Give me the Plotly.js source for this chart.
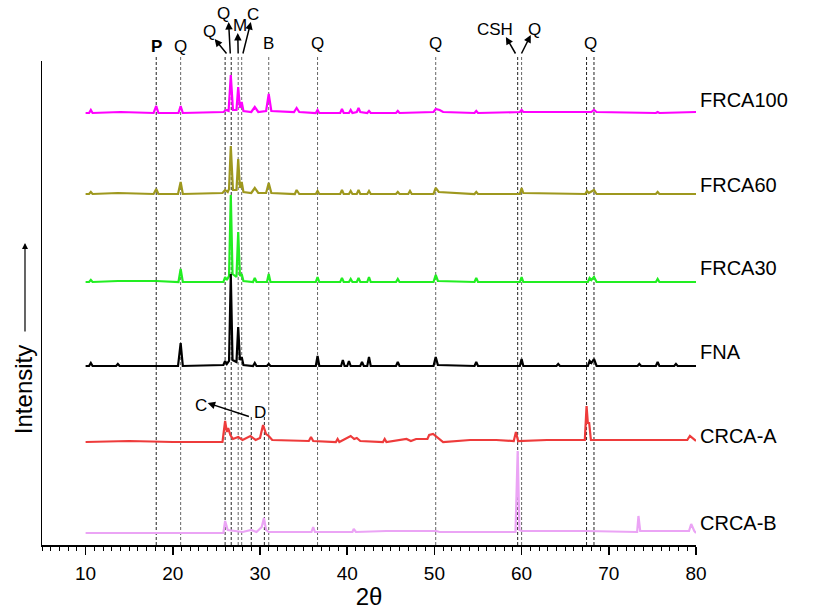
<!DOCTYPE html>
<html>
<head>
<meta charset="utf-8">
<script src="https://cdn.plot.ly/plotly-3.0.1.min.js"></script>
<style>html,body{margin:0;padding:0;background:#fff;}#chart{width:816px;height:610px;}</style>
</head>
<body>
<div id="chart"></div>
<script>
// ---- data (2θ, relative intensity above each pattern's baseline) ----
const seriesNames = ["FRCA100", "FRCA60", "FRCA30", "FNA", "CRCA-A", "CRCA-B"];
const seriesOffsets = [432, 351, 263, 179, 103, 12];
const seriesLabelY = [445, 360, 277, 193, 109, 22];
const seriesColors = ["#ff00ff", "#9e981e", "#22ee22", "#000000", "#ee3b3b", "#eba4f5"];

const frca100_x = [10, 10.4, 10.6, 10.8, 14, 17.8, 18.1, 18.35, 20.65, 20.9, 21.15, 25.8, 26.1, 26.4, 26.65, 26.9, 27.3, 27.5, 27.7, 27.9, 28.1, 29.0, 29.4, 29.8, 30.7, 31.0, 31.3, 33.9, 34.2, 34.5, 36.4, 36.6, 36.8, 39.2, 39.4, 39.6, 40.2, 40.4, 40.6, 41.1, 41.3, 41.5, 42.3, 42.5, 42.7, 45.6, 45.8, 46.0, 49.9, 50.15, 50.6, 51.0, 54.6, 54.8, 55.0, 59.8, 60.0, 60.2, 68.0, 68.3, 68.6, 75.4, 75.6, 75.8, 80];
const frca100_y = [0, 0, 3, 0, 1, 0, 7, 0, 0, 7, 0, 1, 3, 2, 38, 3, 3, 26, 5, 11, 2, 1, 6, 1, 2, 19, 2, 1, 5, 1, 0, 3, 0, 0, 4, 0, 0, 3, 0, 1, 5, 1, 0, 2, 0, 0, 2, 0, 1, 4, 3, 1, 0, 2, 0, 1, 3, 1, 1, 3, 1, 0, 1, 0, 1];

const frca60_x = [10, 10.4, 10.6, 10.8, 13.7, 17.8, 18.1, 18.35, 20.6, 20.9, 21.15, 25.7, 26.0, 26.3, 26.45, 26.65, 26.9, 27.3, 27.5, 27.7, 27.9, 28.1, 29.0, 29.4, 29.8, 30.7, 31.0, 31.3, 34.0, 34.2, 34.5, 36.4, 36.6, 36.8, 39.2, 39.4, 39.6, 40.2, 40.4, 40.6, 41.1, 41.3, 41.5, 42.3, 42.5, 42.7, 45.6, 45.8, 46.0, 47.0, 47.2, 47.4, 49.9, 50.15, 50.5, 54.6, 54.8, 55.0, 59.8, 60.0, 60.2, 67.3, 67.5, 67.7, 68.3, 68.6, 75.4, 75.6, 75.8, 80];
const frca60_y = [0, 0, 2, 0, 1, 0, 5, 0, 0, 12, 0, 1, 4, 2, 5, 48, 4, 4, 35, 6, 12, 2, 1, 6, 1, 1, 11, 1, 0, 4, 0, 0, 3, 0, 0, 4, 0, 0, 3, 0, 0, 4, 0, 0, 3, 0, 0, 2, 0, 0, 3, 0, 0, 6, 2, 0, 2, 0, 0, 6, 1, 0, 3, 1, 4, 0, 0, 2, 0, 0];

const frca30_x = [10, 10.4, 10.6, 10.8, 13.7, 18.1, 20.65, 20.9, 21.15, 25.8, 26.0, 26.2, 26.45, 26.65, 26.85, 27.3, 27.5, 27.7, 27.9, 28.1, 29.2, 29.4, 29.6, 30.8, 31.0, 31.2, 36.4, 36.6, 36.8, 39.2, 39.4, 39.6, 40.2, 40.4, 40.6, 41.1, 41.3, 41.5, 42.3, 42.5, 42.7, 45.6, 45.8, 46.0, 49.9, 50.15, 50.4, 54.6, 54.8, 55.0, 59.8, 60.0, 60.2, 67.6, 67.8, 68.0, 68.3, 68.6, 75.4, 75.6, 75.8, 80];
const frca30_y = [0, 0, 2, 0, 1, 1, 0, 13, 0, 0, 5, 2, 6, 87, 8, 5, 50, 6, 8, 1, 0, 4, 0, 0, 8, 0, 0, 5, 0, 0, 4, 0, 0, 3, 0, 0, 4, 0, 0, 5, 0, 0, 3, 0, 0, 7, 1, 0, 4, 0, 0, 5, 0, 0, 4, 2, 5, 0, 0, 3, 0, 0];

const fna_x = [10, 10.4, 10.6, 10.8, 13.5, 13.7, 13.9, 20.6, 20.9, 21.15, 25.8, 26.0, 26.2, 26.45, 26.65, 26.85, 27.3, 27.5, 27.7, 27.9, 28.1, 29.2, 29.4, 29.6, 30.8, 31.0, 31.2, 36.4, 36.6, 36.8, 39.3, 39.5, 39.7, 40.0, 40.2, 40.4, 41.5, 41.7, 41.9, 42.3, 42.5, 42.7, 45.6, 45.8, 46.0, 49.9, 50.15, 50.4, 54.6, 54.8, 55.0, 59.8, 60.0, 60.2, 64.0, 64.2, 64.4, 67.6, 67.8, 68.0, 68.3, 68.6, 73.3, 73.5, 73.7, 75.4, 75.6, 75.8, 77.5, 77.7, 77.9, 80];
const fna_y = [0, 0, 3, 0, 0, 2, 0, 0, 23, 0, 1, 5, 2, 5, 92, 6, 4, 39, 6, 9, 1, 0, 3, 0, 0, 2, 0, 0, 10, 0, 0, 6, 0, 0, 5, 0, 0, 4, 0, 0, 9, 0, 0, 4, 0, 0, 9, 1, 0, 4, 0, 0, 7, 0, 0, 2, 0, 0, 5, 3, 7, 0, 0, 2, 0, 0, 4, 0, 0, 2, 0, 0];

const crcaA_x = [10, 15, 20, 25.7, 26.0, 26.2, 26.35, 26.6, 26.9, 27.5, 28.0, 28.9, 29.5, 30.0, 30.35, 30.7, 31.0, 31.4, 35.6, 35.85, 36.1, 38.7, 38.9, 39.1, 40.4, 40.8, 41.1, 41.5, 44.1, 44.3, 44.5, 46.8, 47.3, 47.9, 49.2, 49.4, 49.85, 50.4, 51.0, 54.1, 57.1, 59.1, 59.35, 59.6, 62.9, 65.9, 67.25, 67.45, 67.6, 67.75, 67.95, 69.7, 79.0, 79.3, 79.6, 80];
const crcaA_y = [0, 1, 0, 0, 21, 10, 14, 7, 3, 5, 2, 6, 2, 4, 17, 8, 6, 2, 1, 5, 1, 0, 3, 0, 6, 3, 4, 1, 0, 3, 0, 3, 1, 3, 3, 7, 8, 4, 0, 2, 2, 1, 10, 1, 2, 2, 2, 36, 19, 19, 2, 2, 2, 6, 4, 1];

const crcaB_x = [10, 25.8, 26.0, 26.3, 28.0, 29.0, 29.6, 30.2, 30.45, 30.7, 31.0, 35.9, 36.1, 36.3, 40.6, 40.75, 41.0, 44.5, 50.2, 50.6, 59.3, 59.55, 59.75, 60.0, 67.4, 73.25, 73.4, 73.6, 79.2, 79.45, 79.8, 80];
const crcaB_y = [0, 0, 12, 3, 1, 3, 1, 6, 15, 3, 1, 1, 6, 1, 1, 4, 1, 2, 2, 1, 1, 82, 3, 2, 2, 1, 17, 2, 2, 9, 2, 0];

const seriesX = [frca100_x, frca60_x, frca30_x, fna_x, crcaA_x, crcaB_x];
const seriesY = [frca100_y, frca60_y, frca30_y, fna_y, crcaA_y, crcaB_y];

// reference phase lines (2θ)
const refLinesX = [18.1, 20.9, 26.0, 26.7, 27.5, 27.9, 29.0, 30.5, 31.0, 36.6, 50.15, 59.55, 60.0, 67.45, 68.3];
const refLinesTop = [488, 488, 488, 488, 488, 488, 128, 128, 488, 488, 488, 488, 488, 488, 488];
const refLinesDark = [true, false, true, true, false, false, true, true, false, false, false, true, false, true, true];

// plain phase labels [text, 2θ, height]
const phaseLabels = [["<b>P</b>", 18.1, 499], ["Q", 20.9, 499], ["B", 31.0, 502], ["Q", 36.6, 502], ["Q", 50.15, 502], ["Q", 67.9, 502]];
// arrow labels [text, labelX, labelY, headX, headY, tailX, tailY]
const arrowLabels = [
  ["Q", 24.2, 514, 24.8, 506, 26.3, 490],
  ["Q", 25.85, 532, 26.4, 523, 26.6, 490],
  ["M", 27.7, 519, 27.45, 512, 27.5, 490],
  ["C", 29.15, 531, 28.95, 523, 28.0, 490],
  ["CSH", 56.9, 516, 58.2, 508, 59.4, 490],
  ["Q", 61.5, 516, 61.05, 510, 59.9, 490],
  ["C", 23.25, 140, 24.0, 142, 28.9, 128]
];
const extraLabels = [["D", 29.95, 133]];

// ---- scales ----
const X_RANGE = [5, 80], Y_RANGE = [0, 484];
const M = {l: 42, r: 120, t: 61, b: 65};
const plotW = 816 - M.l - M.r, plotH = 610 - M.t - M.b;
const pxPerX = plotW / (X_RANGE[1] - X_RANGE[0]);
const pxPerY = plotH / (Y_RANGE[1] - Y_RANGE[0]);
const yPaper = v => (v - Y_RANGE[0]) / (Y_RANGE[1] - Y_RANGE[0]);

// ---- traces ----
const traces = seriesNames.map((n, i) => ({
  type: "scatter", mode: "lines", name: n,
  x: seriesX[i],
  y: seriesY[i].map(v => v + seriesOffsets[i]),
  line: {color: seriesColors[i], width: 2.2},
  cliponaxis: false,
  showlegend: false
}));

const shapes = refLinesX.map((x, i) => ({
  type: "line", xref: "x", yref: "paper", x0: x, x1: x, y0: 0, y1: yPaper(refLinesTop[i]),
  line: {color: refLinesDark[i] ? "#222" : "#666", width: 1, dash: "3px,2px"},
  layer: "below"
}));

const font = "Arial, 'Liberation Sans', sans-serif";
const annotations = [];
seriesNames.forEach((n, i) => {
  annotations.push({
    x: 80, y: yPaper(seriesLabelY[i]), xref: "x", yref: "paper", text: n, showarrow: false,
    xanchor: "left", yanchor: "middle", xshift: 2,
    font: {family: font, size: 20, color: "#000"}
  });
});
const labelFont = {family: font, size: 17, color: "#000"};
phaseLabels.forEach(p => annotations.push({
  x: p[1], y: yPaper(p[2]), xref: "x", yref: "paper", text: p[0], showarrow: false,
  xanchor: "center", yanchor: "middle", font: labelFont
}));
arrowLabels.forEach(a => {
  annotations.push({
    x: a[1], y: yPaper(a[2]), xref: "x", yref: "paper", text: a[0], showarrow: false,
    xanchor: "center", yanchor: "middle", font: labelFont
  });
  annotations.push({
    x: a[3], y: yPaper(a[4]), xref: "x", yref: "paper",
    ax: (a[5] - a[3]) * pxPerX, ay: -(a[6] - a[4]) * pxPerY,
    text: "", showarrow: true, arrowhead: 2, arrowsize: 1, arrowwidth: 1.5, arrowcolor: "#000", standoff: 0
  });
});
extraLabels.forEach(p => annotations.push({
  x: p[1], y: yPaper(p[2]), xref: "x", yref: "paper", text: p[0], showarrow: false,
  xanchor: "center", yanchor: "middle", font: labelFont
}));
// y-axis title with arrow
annotations.push({
  x: -0.029, y: 0.32, xref: "paper", yref: "paper", text: "Intensity", textangle: -90,
  showarrow: false, xanchor: "center", yanchor: "middle", font: {family: font, size: 24, color: "#000"}
});
annotations.push({
  x: -0.026, y: 0.624, xref: "paper", yref: "paper", ax: 0, ay: 90, text: "",
  showarrow: true, arrowhead: 2, arrowsize: 1, arrowwidth: 1.2, arrowcolor: "#000", standoff: 0
});

const layout = {
  width: 816, height: 610,
  margin: M,
  paper_bgcolor: "#fff", plot_bgcolor: "#fff",
  showlegend: false,
  font: {family: font, color: "#000"},
  xaxis: {
    range: X_RANGE, tick0: 10, dtick: 10, ticks: "outside", ticklen: 8, tickwidth: 1.5, tickcolor: "#000",
    showline: true, linecolor: "#000", linewidth: 1.5, showgrid: false, zeroline: false,
    tickfont: {family: font, size: 19, color: "#000"}, ticklabelstandoff: 3,
    minor: {dtick: 1, ticks: "outside", ticklen: 4, tickwidth: 1, tickcolor: "#000", showgrid: false},
    title: {text: "2θ", font: {family: font, size: 24, color: "#000"}, standoff: 4}
  },
  yaxis: {
    range: Y_RANGE, showline: true, linecolor: "#000", linewidth: 1.5, showgrid: false, zeroline: false,
    showticklabels: false, ticks: ""
  },
  shapes: shapes,
  annotations: annotations
};

Plotly.newPlot("chart", traces, layout, {displayModeBar: false, staticPlot: true});
</script>
</body>
</html>
